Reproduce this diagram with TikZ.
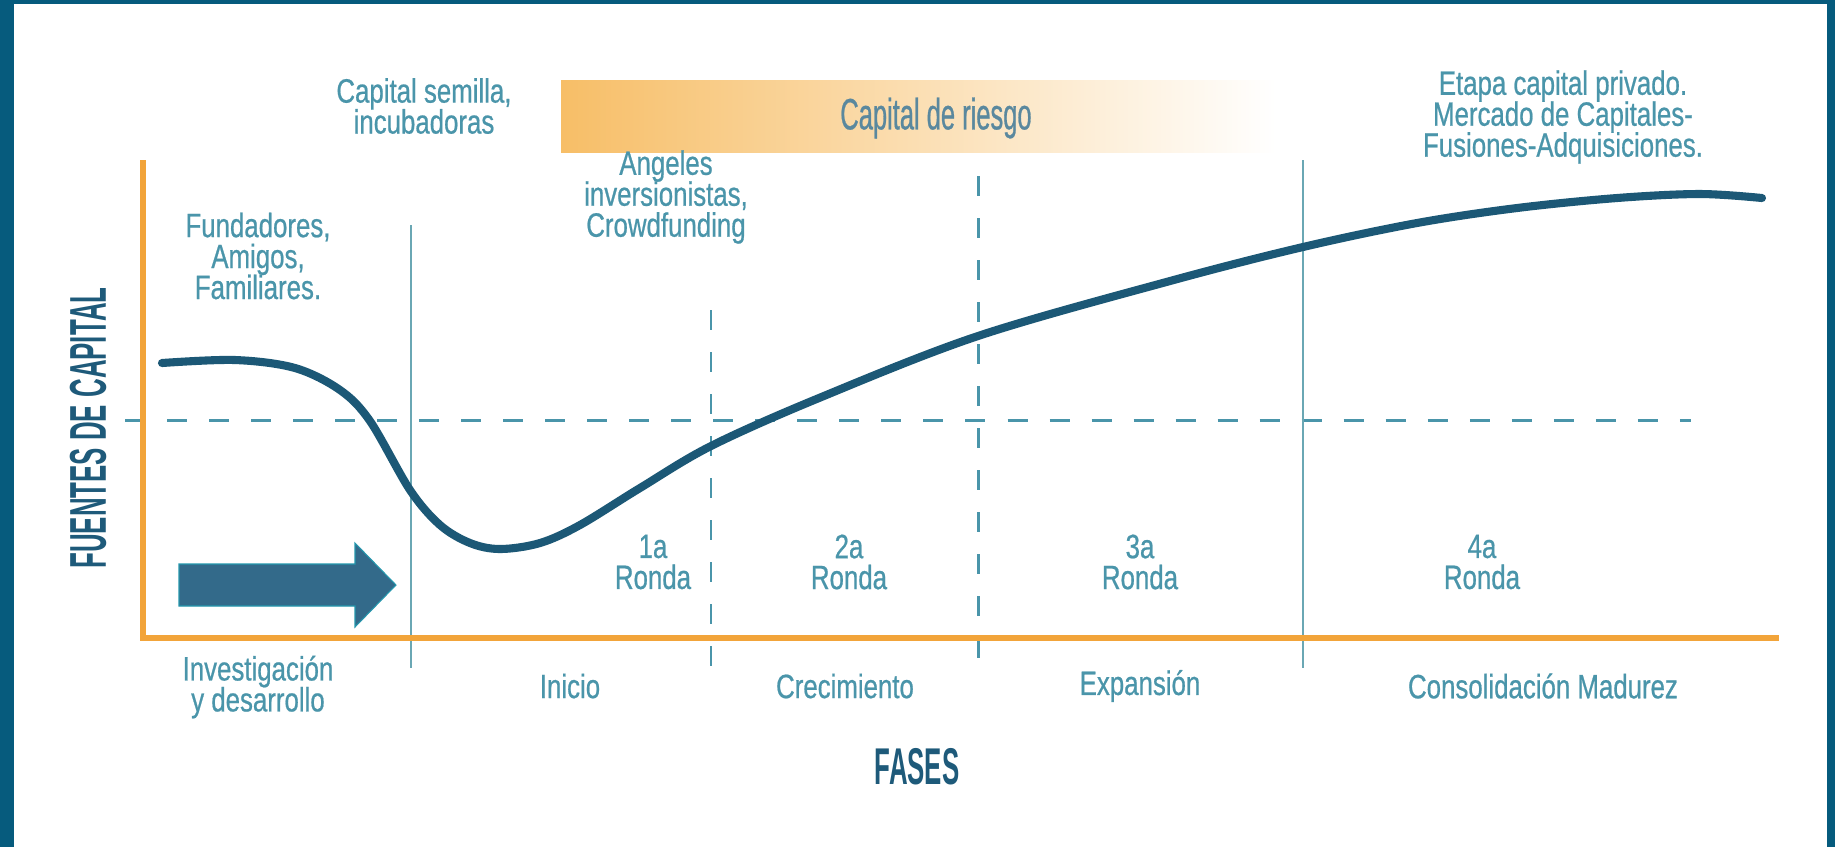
\documentclass[tikz,border=0pt]{standalone}
\usepackage{fontspec}
\newfontfamily\etiqfont[FakeStretch=0.765,FakeBold=0.6]{Liberation Sans}
\newfontfamily\titfont[FakeStretch=0.5]{Liberation Sans Bold}
\newfontfamily\riesgofont[FakeStretch=0.58,FakeBold=0.6]{Liberation Sans}
\newcommand\apretado{\lineskiplimit=-1pt\relax\lineskip=0pt\relax}
\definecolor{marco}{HTML}{065B7D}
\definecolor{ejeor}{HTML}{F2A43A}
\definecolor{curva}{HTML}{1C5876}
\definecolor{txtcol}{HTML}{4A95AA}
\definecolor{titcol}{HTML}{1E5A7A}
\definecolor{guiacol}{HTML}{6AA7B4}
\definecolor{flecha}{HTML}{336A8A}
\definecolor{riesgoor}{HTML}{F7BE67}
\definecolor{riesgotxt}{HTML}{5A889E}
\begin{document}
\begin{tikzpicture}[x=0.01cm,y=-0.01cm,
  lbl/.style={text=txtcol, align=center, inner sep=0pt,
    font=\etiqfont\fontsize{9.6}{8.8}\selectfont\apretado},
  titulo/.style={text=titcol, inner sep=0pt,
    font=\titfont\fontsize{14.7}{15}\selectfont},
  guia/.style={draw=guiacol, line width=0.7pt},
  guiadash/.style={draw=txtcol, line width=0.85pt, dash pattern=on 0.2cm off 0.22cm}]
\def\yeje{638};
\def\ybot{668};

% frame
\fill[marco] (0,0) rectangle (1835,847);
\fill[white] (14,4) rectangle (1827,847);

% capital de riesgo bar
\shade[left color=riesgoor, right color=white] (561,80) rectangle (1276,152);
\node[text=riesgotxt, inner sep=0pt, font=\riesgofont\fontsize{12.5}{12}\selectfont] (riesgo) at (936,118) {Capital de riesgo};

% guides
\draw[guiadash] (125,420) -- (1691,420);
\draw[guia] (411,225) -- (411,\ybot);
\draw[guia] (1303,160) -- (1303,\ybot);
\draw[guiadash] (711,310) -- (711,\ybot);
\draw[guiadash] (978,176) -- (978,\ybot);

% axes
\draw[ejeor, line width=1.85pt] (143,160) -- (143,\yeje) -- (1779,\yeje);

% curve
\draw[curva, line width=2.3pt, line cap=round] plot[smooth, tension=0.55] coordinates {
  (162,363) (235,360) (295,368) (340,390) (370,421) (410,490) (440,525)
  (470,543) (500,549) (540,543) (580,525) (640,488) (711,446) (819,398)
  (978,336) (1170,281) (1303,247) (1417,223) (1517,208) (1617,198)
  (1700,194) (1762,198)};

% arrow
\filldraw[fill=flecha, draw=flecha!70!cyan, line width=0.3pt]
  (179,564) -- (355,564) -- (355,543) -- (396,585) -- (355,627) -- (355,606) -- (179,606) -- cycle;

% labels on top
\node[lbl] (semilla) at (424,106) {Capital semilla,\\incubadoras};
\node[lbl] (angeles) at (666,197) {Angeles\\inversionistas,\\Crowdfunding};
\node[lbl] (fundadores) at (258,256) {Fundadores,\\Amigos,\\Familiares.};
\node[lbl] (etapa) at (1563,117) {Etapa capital privado.\\Mercado de Capitales-\\Fusiones-Adquisiciones.};

% rounds
\foreach \x/\n in {653/1a,849/2a,1140/3a,1482/4a}
  \node[lbl] (ronda\n) at (\x,562) {\n\\Ronda};

% phases
\node[lbl] (investigacion) at (258,687) {Investigación\\y desarrollo};
\foreach \x/\t/\m in {570/Inicio/inicio,845/Crecimiento/crecimiento,1140/Expansión/expansion,1543/Consolidación Madurez/consolidacion}
  \node[lbl] (\m) at (\x,686) {\t};

% axis titles
\node[titulo, rotate=90] (fuentes) at (88,428) {FUENTES DE CAPITAL};
\node[titulo] (fases) at (917,767) {FASES};

\end{tikzpicture}
\end{document}
